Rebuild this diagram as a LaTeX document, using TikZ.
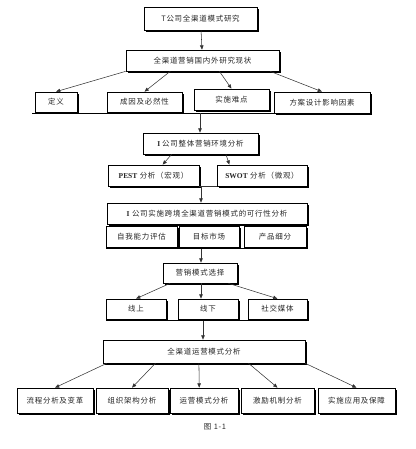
\documentclass[tikz,border=0pt]{standalone}
\usepackage{fontspec}
\setmainfont[LetterSpace=10]{Noto Sans CJK SC}
\newfontfamily\latinb{Liberation Serif}
\usetikzlibrary{arrows.meta,shadows,calc}
\begin{document}
\begin{tikzpicture}[x=0.75pt,y=-0.75pt,
  box/.style 2 args={draw=black, line width=0.5pt, fill=white, inner sep=0pt,
    minimum width=#1*0.75pt, minimum height=#2*0.75pt,
    font=\fontsize{5.6}{7}\selectfont, text=black!85,
    drop shadow={shadow xshift=1.2pt, shadow yshift=-1.2pt, fill=black, opacity=1}},
  arr/.style={draw=black!80, line width=0.4pt, -{Triangle[length=3.2pt,width=2.6pt]}},
  bar/.style={draw=black, line width=1.4pt},
  lnk/.style={draw=black!80, line width=0.4pt}]
\useasboundingbox (0,0) rectangle (415,449);
% level 1
\node[box={113}{23}] (n1) at (200.5,18.5) {T公司全渠道模式研究};
\node[box={153}{21}] (n2) at (202.5,60.5) {全渠道营销国内外研究现状};
\draw[arr] (n1) -- (n2);
\node[box={42}{20}] (a1) at (56,102) {定义};
\node[box={75}{20}] (a2) at (144.5,102) {成因及必然性};
\node[box={75}{21}] (a3) at (231.5,99.5) {实施难点};
\node[box={96}{21}] (a4) at (322,102.5) {方案设计影响因素};
\draw[arr] (n2.south west) -- (a1.north);
\draw[arr] ($(n2.south west)!0.29!(n2.south east)$) -- (a2.north);
\draw[arr] ($(n2.south west)!0.61!(n2.south east)$) -- (a3.north);
\draw[arr] ($(n2.south west)!0.94!(n2.south east)$) -- (a4.north);
\coordinate (l1a) at (32,113.5);
\coordinate (l1b) at (370,113.5);
\coordinate (l1m) at (200,113.5);
\draw[bar] (l1a) -- (l1b);
% level 2
\node[box={115}{21}] (n3) at (200.5,143.5) {\latinb\bfseries I\ \normalfont 公司整体营销环境分析};
\draw[arr] (l1m) -- (n3.north -| l1m);
\node[box={91}{21}] (b1) at (153.5,175.5) {{\latinb\bfseries PEST} 分析（宏观）};
\node[box={90}{21}] (b2) at (262,175.5) {{\latinb\bfseries SWOT} 分析（微观）};
\draw[arr] ($(n3.south west)!0.25!(n3.south east)$) -- ($(b1.north west)!0.6!(b1.north east)$);
\draw[arr] ($(n3.south west)!0.72!(n3.south east)$) -- ($(b2.north west)!0.14!(b2.north east)$);
\coordinate (j2) at (201,186);
\draw[lnk] (b1.south east) -- (b2.south west);
% level 3
\node[box={200}{21}] (n4) at (207,213.5) {{\latinb\bfseries I} 公司实施跨境全渠道营销模式的可行性分析};
\draw[arr] (j2) -- (n4.north -| j2);
\node[box={71}{21}] (c1) at (141.5,236.5) {自我能力评估};
\node[box={60}{21}] (c2) at (209,236.5) {目标市场};
\node[box={62}{21}] (c3) at (275,236.5) {产品细分};
\coordinate (l3a) at (106,248.5);
\coordinate (l3b) at (307,248.5);
\coordinate (l3m) at (201,248.5);
\draw[bar] (l3a) -- (l3b);
% level 4
\node[box={74}{20}] (n5) at (200,273) {营销模式选择};
\draw[arr] (l3m) -- (n5.north -| l3m);
\node[box={60}{20}] (d1) at (136,309) {线上};
\node[box={60}{20}] (d2) at (208,309) {线下};
\node[box={59}{20}] (d3) at (277.5,309) {社交媒体};
\draw[arr] ($(n5.south west)!0.1!(n5.south east)$) -- (d1.north);
\draw[arr] (n5.south -| 201,0) -- (d2.north -| 201,0);
\draw[arr] ($(n5.south west)!0.88!(n5.south east)$) -- (d3.north);
\coordinate (l4a) at (106,320.5);
\coordinate (l4b) at (307,320.5);
\coordinate (l4m) at (203,320.5);
\draw[bar] (l4a) -- (l4b);
% level 5
\node[box={202}{23}] (n6) at (204,351.5) {全渠道运营模式分析};
\draw[arr] (l4m) -- (n6.north -| l4m);
\node[box={76}{25}] (e1) at (55,400.5) {流程分析及变革};
\node[box={72}{25}] (e2) at (132,400.5) {组织架构分析};
\node[box={68}{25}] (e3) at (204,400.5) {运营模式分析};
\node[box={73}{25}] (e4) at (277.5,400.5) {激励机制分析};
\node[box={77}{25}] (e5) at (356.5,400.5) {实施应用及保障};
\draw[arr] ($(n6.south west)!0.02!(n6.south east)$) -- (e1.north);
\draw[arr] ($(n6.south west)!0.26!(n6.south east)$) -- (e2.north);
\draw[arr] ($(n6.south west)!0.475!(n6.south east)$) -- ($(e3.north west)!0.43!(e3.north east)$);
\draw[arr] ($(n6.south west)!0.72!(n6.south east)$) -- (e4.north);
\draw[arr] (n6.south east) -- (e5.north);
\node[font=\fontsize{5.6}{7}\selectfont, text=black!85] (cap) at (215,427) {图 1-1};
\end{tikzpicture}
\end{document}
